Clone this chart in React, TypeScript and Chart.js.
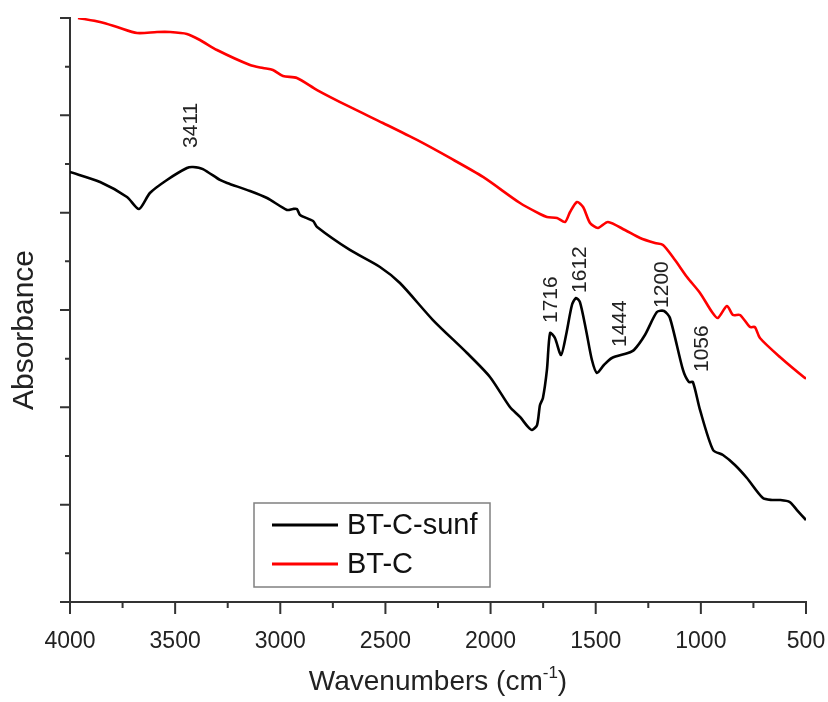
import React, { useEffect, useRef } from "react";
import { Chart, registerables } from "chart.js";

Chart.register(...registerables);

// ---- data ----
const seriesLabels = ["BT-C-sunf", "BT-C"];
const seriesColors = ["#000000", "#ff0000"];

const sunfX = [4000, 3857, 3729, 3672, 3620, 3539, 3444, 3415, 3368, 3287, 3253, 3144, 3063, 2968, 2940, 2921, 2906, 2844, 2825, 2669, 2526, 2431, 2274, 2112, 2003, 1908, 1860, 1822, 1803, 1779, 1765, 1751, 1732, 1717, 1694, 1665, 1641, 1613, 1594, 1575, 1546, 1518, 1494, 1461, 1423, 1347, 1318, 1266, 1209, 1175, 1147, 1085, 1057, 1038, 1004, 942, 895, 838, 781, 705, 662, 624, 577, 543, 500];
const sunfY = [4.418, 4.315, 4.161, 4.038, 4.202, 4.336, 4.459, 4.469, 4.448, 4.336, 4.305, 4.223, 4.151, 4.028, 4.038, 4.038, 3.976, 3.914, 3.853, 3.617, 3.442, 3.277, 2.897, 2.558, 2.312, 2.003, 1.901, 1.798, 1.767, 1.818, 2.024, 2.096, 2.384, 2.764, 2.712, 2.538, 2.743, 3.051, 3.123, 3.082, 2.795, 2.486, 2.353, 2.435, 2.507, 2.558, 2.589, 2.743, 2.979, 2.990, 2.918, 2.384, 2.260, 2.260, 1.973, 1.562, 1.510, 1.408, 1.274, 1.068, 1.048, 1.048, 1.027, 0.945, 0.842];

const btcX = [3962, 3857, 3776, 3681, 3586, 3524, 3444, 3382, 3301, 3144, 3082, 3035, 2987, 2921, 2825, 2669, 2512, 2350, 2193, 2036, 1860, 1765, 1732, 1684, 1646, 1622, 1589, 1560, 1527, 1489, 1442, 1361, 1289, 1218, 1180, 1123, 1066, 1004, 947, 919, 876, 847, 814, 766, 743, 719, 624, 505, 500];
const btcY = [6.0, 5.959, 5.908, 5.846, 5.856, 5.856, 5.836, 5.774, 5.671, 5.517, 5.486, 5.466, 5.404, 5.384, 5.26, 5.086, 4.921, 4.747, 4.562, 4.367, 4.099, 3.986, 3.956, 3.945, 3.904, 4.007, 4.11, 4.058, 3.894, 3.843, 3.904, 3.822, 3.74, 3.688, 3.668, 3.514, 3.339, 3.175, 2.979, 2.918, 3.041, 2.949, 2.949, 2.825, 2.825, 2.712, 2.517, 2.301, 2.301];

const xTickLabels = [4000, 3500, 3000, 2500, 2000, 1500, 1000, 500];

// peak annotations: label, anchor wavenumber (text centre), anchor absorbance (text start)
const peakLabels = ["3411", "1716", "1612", "1444", "1200", "1056"];
const peakAnchorX = [3427, 1717, 1577, 1387, 1190, 999];
const peakAnchorY = [4.665, 2.866, 3.175, 2.62, 3.021, 2.363];

const FONT = '"Liberation Sans", Arial, Helvetica, sans-serif';

const decorPlugin = {
  id: "decor",
  afterDraw(chart: any) {
    const ctx = chart.ctx as CanvasRenderingContext2D;
    const xs = chart.scales.x;
    const ys = chart.scales.y;
    const area = chart.chartArea;
    ctx.save();

    // tick marks
    ctx.strokeStyle = "#333";
    ctx.lineWidth = 2;
    ctx.beginPath();
    xs.ticks.forEach((t: any) => {
      const px = xs.getPixelForValue(t.value);
      const major = xTickLabels.includes(t.value);
      ctx.moveTo(px, area.bottom);
      ctx.lineTo(px, area.bottom + (major ? 12 : 6));
    });
    ys.ticks.forEach((t: any) => {
      const py = ys.getPixelForValue(t.value);
      const major = Math.abs(t.value - Math.round(t.value)) < 1e-6;
      ctx.moveTo(area.left, py);
      ctx.lineTo(area.left - (major ? 10 : 5), py);
    });
    ctx.stroke();

    // x title with superscript
    ctx.fillStyle = "#222";
    ctx.textBaseline = "alphabetic";
    ctx.textAlign = "left";
    const mainFont = `28px ${FONT}`;
    const supFont = `17px ${FONT}`;
    const p1 = "Wavenumbers (cm";
    const p2 = "-1";
    const p3 = ")";
    ctx.font = mainFont;
    const w1 = ctx.measureText(p1).width;
    const w3 = ctx.measureText(p3).width;
    ctx.font = supFont;
    const w2 = ctx.measureText(p2).width;
    const total = w1 + w2 + w3;
    const cx = (area.left + area.right) / 2;
    let sx = cx - total / 2;
    const base = area.bottom + 88;
    ctx.font = mainFont;
    ctx.fillText(p1, sx, base);
    sx += w1;
    ctx.font = supFont;
    ctx.fillText(p2, sx, base - 12);
    sx += w2;
    ctx.font = mainFont;
    ctx.fillText(p3, sx, base);

    // y title
    ctx.save();
    ctx.translate(area.left - 37, (area.top + area.bottom) / 2 + 20);
    ctx.rotate(-Math.PI / 2);
    ctx.font = `30px ${FONT}`;
    ctx.textAlign = "center";
    ctx.textBaseline = "alphabetic";
    ctx.fillText("Absorbance", 0, 0);
    ctx.restore();

    // peak labels
    ctx.font = `21px ${FONT}`;
    ctx.fillStyle = "#222";
    peakLabels.forEach((lab, i) => {
      const px = xs.getPixelForValue(peakAnchorX[i]);
      const py = ys.getPixelForValue(peakAnchorY[i]);
      ctx.save();
      ctx.translate(px, py);
      ctx.rotate(-Math.PI / 2);
      ctx.textAlign = "left";
      ctx.textBaseline = "middle";
      ctx.fillText(lab, 0, 1);
      ctx.restore();
    });

    // legend
    const lx = area.left + 184;
    const ly = area.bottom - 99;
    const lw = 236;
    const lh = 84;
    ctx.strokeStyle = "#808080";
    ctx.lineWidth = 1.5;
    ctx.strokeRect(lx, ly, lw, lh);
    ctx.font = `29px ${FONT}`;
    ctx.textAlign = "left";
    ctx.textBaseline = "middle";
    chart.data.datasets.forEach((ds: any, i: number) => {
      const yy = ly + 22 + i * 39;
      ctx.strokeStyle = ds.borderColor;
      ctx.lineWidth = 3;
      ctx.beginPath();
      ctx.moveTo(lx + 18, yy);
      ctx.lineTo(lx + 84, yy);
      ctx.stroke();
      ctx.fillStyle = "#111";
      ctx.fillText(ds.label, lx + 93, yy + 1);
    });

    ctx.restore();
  },
};

export default function App() {
  const ref = useRef<HTMLCanvasElement | null>(null);
  useEffect(() => {
    if (!ref.current) return;
    const mk = (xsArr: number[], ysArr: number[]) => xsArr.map((x, i) => ({ x, y: ysArr[i] }));
    const chart = new Chart(ref.current, {
      type: "line",
      data: {
        datasets: [
          {
            label: seriesLabels[0],
            data: mk(sunfX, sunfY),
            borderColor: seriesColors[0],
            backgroundColor: seriesColors[0],
            borderWidth: 2.6,
            pointRadius: 0,
            tension: 0.25,
          },
          {
            label: seriesLabels[1],
            data: mk(btcX, btcY),
            borderColor: seriesColors[1],
            backgroundColor: seriesColors[1],
            borderWidth: 2.6,
            pointRadius: 0,
            tension: 0.25,
          },
        ],
      },
      options: {
        animation: false,
        responsive: true,
        maintainAspectRatio: false,
        layout: { padding: { top: 18, right: 22, left: 0, bottom: 0 } },
        plugins: { legend: { display: false }, tooltip: { enabled: false } },
        scales: {
          x: {
            type: "linear",
            reverse: true,
            min: 500,
            max: 4000,
            grid: { display: false },
            border: { display: true, color: "#333", width: 2 },
            ticks: {
              stepSize: 250,
              autoSkip: false,
              maxRotation: 0,
              padding: 18,
              color: "#222",
              font: { family: FONT, size: 23 },
              callback: (v: any) => (xTickLabels.includes(Number(v)) ? String(v) : ""),
            },
            afterFit: (s: any) => {
              s.height = 100;
              s.paddingLeft = 0;
              s.paddingRight = 0;
            },
          },
          y: {
            type: "linear",
            min: 0,
            max: 6,
            grid: { display: false },
            border: { display: true, color: "#333", width: 2 },
            ticks: { display: false, stepSize: 0.5 },
            afterFit: (s: any) => {
              s.width = 70;
            },
          },
        },
      },
      plugins: [decorPlugin],
    });
    return () => chart.destroy();
  }, []);
  return (
    <div style={{ position: "absolute", left: 0, top: 0, width: 828, height: 702, background: "#fff" }}>
      <canvas ref={ref} />
    </div>
  );
}
